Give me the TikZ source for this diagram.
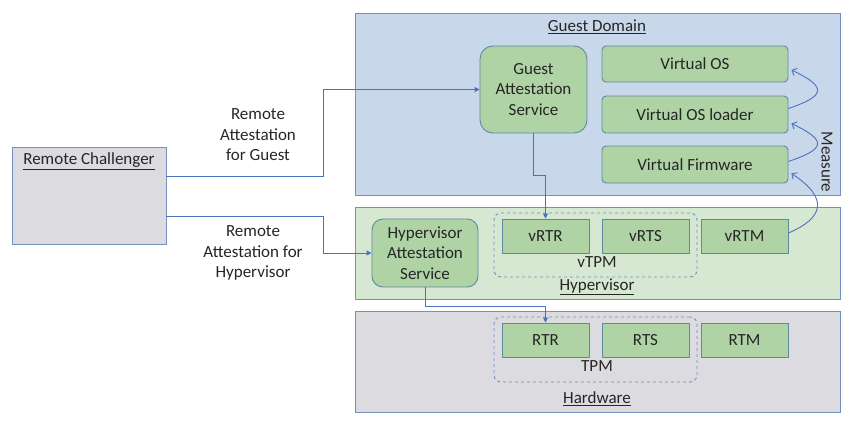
\documentclass[tikz,border=0pt]{standalone}
\usepackage{fontspec}
\setmainfont{Carlito}
\usetikzlibrary{arrows.meta}
\definecolor{guestfill}{HTML}{C9D7EB}
\definecolor{hypfill}{HTML}{D6E8D1}
\definecolor{hwfill}{HTML}{DCDBDF}
\definecolor{boxborder}{HTML}{7290C0}
\definecolor{grnfill}{HTML}{AFD3A5}
\definecolor{grnborder}{HTML}{5E8AA0}
\definecolor{connc}{HTML}{4A72C0}
\definecolor{txt}{HTML}{262626}
\begin{document}
\begin{tikzpicture}[x=1pt,y=-1pt,
  every node/.style={font=\fontsize{17}{20.5}\selectfont, text=txt, inner sep=0pt, align=center},
  area/.style={draw=boxborder, line width=0.9pt},
  grnbox/.style={draw=grnborder, fill=grnfill, line width=0.9pt, rounded corners=4pt},
  svcbox/.style={draw=grnborder, fill=grnfill, line width=0.9pt, rounded corners=13pt},
  tpmbox/.style={draw=boxborder, dashed, line width=0.9pt, rounded corners=7pt},
  conn/.style={draw=connc, line width=0.9pt, -{Triangle[length=5pt,width=5pt]}},
  meas/.style={draw=connc, line width=0.9pt, -{Straight Barb[length=4pt,width=8pt]}}]
\useasboundingbox (0,0) rectangle (855,422);
% areas
\node[area, fill=guestfill, minimum width=485pt, minimum height=182pt] (guest) at (597.5,104) {};
\node[area, fill=hypfill, minimum width=485pt, minimum height=92pt] (hyp) at (597.5,253) {};
\node[area, fill=hwfill, minimum width=485pt, minimum height=101pt] (hw) at (597.5,361.5) {};
\node[area, fill=hwfill, minimum width=154pt, minimum height=97pt] (rc) at (89,195.5) {};
% labels
\node (guestlbl) at (597,27) {\underline{Guest Domain}};
\node (hyplbl) at (597,287) {\underline{Hypervisor}};
\node (hwlbl) at (597,399) {\underline{Hardware}};
\node (rclbl) at (89,161) {\underline{Remote Challenger}};
\node[rotate=-90] (measure) at (827,162) {Measure};
% guest boxes
\node[svcbox, minimum width=107pt, minimum height=87pt] (gas) at (533.5,89.5) {Guest\\Attestation\\Service};
\node[grnbox, minimum width=186pt, minimum height=36pt] (vos) at (695,64) {Virtual OS};
\node[grnbox, minimum width=186pt, minimum height=37pt] (vosl) at (695,114.5) {Virtual OS loader};
\node[grnbox, minimum width=186pt, minimum height=37pt] (vfw) at (695,164.5) {Virtual Firmware};
% hypervisor
\node[tpmbox, minimum width=203pt, minimum height=64pt] (vtpm) at (595.5,245) {};
\node (vtpmlbl) at (597,262) {vTPM};
\node[svcbox, rounded corners=11pt, minimum width=106pt, minimum height=68pt] (has) at (425,253) {Hypervisor\\Attestation\\Service};
\node[grnbox, rounded corners=0pt, minimum width=87pt, minimum height=34pt] (vrtr) at (545.5,236) {vRTR};
\node[grnbox, rounded corners=0pt, minimum width=87pt, minimum height=34pt] (vrts) at (645.5,236) {vRTS};
\node[grnbox, rounded corners=0pt, minimum width=87pt, minimum height=34pt] (vrtm) at (744.5,236) {vRTM};
% hardware
\node[tpmbox, minimum width=203pt, minimum height=65pt] (tpm) at (595.5,349.5) {};
\node (tpmlbl) at (597,366) {TPM};
\node[grnbox, rounded corners=0pt, minimum width=87pt, minimum height=34pt] (rtr) at (545.5,340) {RTR};
\node[grnbox, rounded corners=0pt, minimum width=87pt, minimum height=34pt] (rts) at (645.5,340) {RTS};
\node[grnbox, rounded corners=0pt, minimum width=87pt, minimum height=34pt] (rtm) at (744.5,340) {RTM};
% connector labels
\node (lblguest) at (258,135) {Remote\\Attestation\\for Guest};
\node (lblhyp) at (253,253) {Remote\\Attestation for\\Hypervisor};
% connectors
\draw[conn] ([yshift=19.5pt]rc.east) -- ++(157,0) |- (gas.west);
\draw[conn] ([yshift=-20.5pt]rc.east) -- ++(157,0) |- (has.west);
\draw[conn] (gas.south) -- ++(0,42) -| (vrtr.north);
\draw[conn] (has.south) -- ++(0,19) -| (rtr.north);
% measure curves
\draw[meas] ([yshift=3pt]vrtm.east) .. controls +(35,-15) and +(38,25) .. ([xshift=3pt,yshift=-9pt]vfw.east);
\draw[meas] ([yshift=3pt]vfw.east) .. controls +(35,-12) and +(38,18) .. ([xshift=3pt,yshift=-9pt]vosl.east);
\draw[meas] ([yshift=6pt]vosl.east) .. controls +(35,-12) and +(38,18) .. ([xshift=3pt,yshift=-6pt]vos.east);
\end{tikzpicture}
\end{document}
